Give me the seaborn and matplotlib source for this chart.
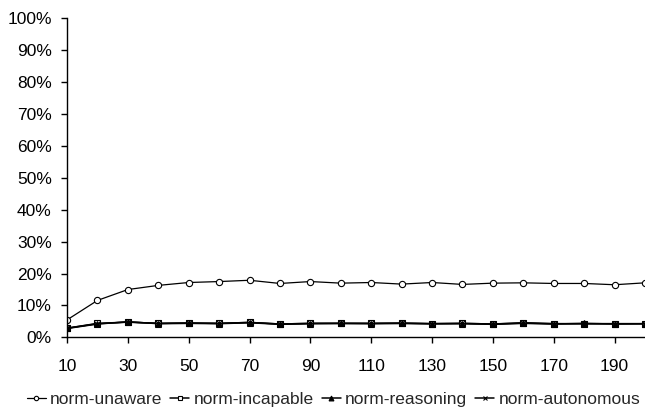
import matplotlib
matplotlib.use("Agg")
import matplotlib.pyplot as plt
import seaborn as sns
import pandas as pd
from matplotlib.ticker import FuncFormatter

steps = list(range(10, 201, 10))
norm_unaware = [5.5, 11.6, 15.0, 16.3, 17.2, 17.5, 17.9, 16.9, 17.5, 17.0,
                17.2, 16.7, 17.2, 16.6, 17.0, 17.1, 16.9, 16.9, 16.5, 17.1]
norm_incapable = [2.9, 4.4, 4.8, 4.4, 4.5, 4.4, 4.7, 4.2, 4.4, 4.4,
                  4.4, 4.5, 4.3, 4.4, 4.2, 4.6, 4.3, 4.3, 4.3, 4.3]
norm_reasoning = [2.8, 4.2, 4.9, 4.3, 4.4, 4.3, 4.6, 4.1, 4.3, 4.4,
                  4.3, 4.4, 4.3, 4.3, 4.1, 4.4, 4.2, 4.4, 4.2, 4.3]
norm_autonomous = [2.9, 4.3, 4.8, 4.4, 4.5, 4.4, 4.7, 4.2, 4.4, 4.4,
                   4.4, 4.4, 4.3, 4.4, 4.2, 4.5, 4.3, 4.3, 4.3, 4.3]
series_names = ["norm-unaware", "norm-incapable", "norm-reasoning", "norm-autonomous"]
xtick_labels = list(range(10, 191, 20))

series_values = [norm_unaware, norm_incapable, norm_reasoning, norm_autonomous]
df = pd.concat([pd.DataFrame({"step": steps, "value": v, "series": n})
                for n, v in zip(series_names, series_values)], ignore_index=True)

sns.set_theme(style="white")
plt.rcParams["font.family"] = ["Liberation Sans", "DejaVu Sans"]

fig = plt.figure(figsize=(6.45, 4.12), dpi=100)
ax = fig.add_axes([0.104, 0.181, 0.896, 0.775])

styles = {
    "norm-unaware": dict(marker="o", mfc="white", ms=4.5, lw=0.9),
    "norm-incapable": dict(marker="s", mfc="white", ms=4.5, lw=1.1),
    "norm-reasoning": dict(marker="^", mfc="black", ms=5, lw=1.1),
    "norm-autonomous": dict(marker="x", mfc="black", ms=5, lw=1.1),
}
for name in series_names:
    st = styles[name]
    sub = df[df["series"] == name]
    sns.lineplot(data=sub, x="step", y="value", ax=ax, color="black",
                 marker=st["marker"], markerfacecolor=st["mfc"],
                 markeredgecolor="black", markersize=st["ms"],
                 markeredgewidth=0.8, linewidth=st["lw"], label=name)

FS = 12.5
ax.set_xlim(10, 200)
ax.set_ylim(0, 100)
ax.set_xticks(xtick_labels)
ax.set_xticklabels([str(t) for t in xtick_labels])
ax.set_yticks(range(0, 101, 10))
ax.yaxis.set_major_formatter(FuncFormatter(lambda v, p: f"{int(v)}%"))
ax.set_xlabel("")
ax.set_ylabel("")
for s in ["top", "right"]:
    ax.spines[s].set_visible(False)
for s in ["left", "bottom"]:
    ax.spines[s].set_color("black")
    ax.spines[s].set_linewidth(1.0)
ax.tick_params(axis="both", which="major", direction="out", length=4,
               width=1.0, color="black", labelsize=FS, labelcolor="black",
               bottom=True, left=True)
ax.tick_params(axis="y", pad=7)
ax.tick_params(axis="x", pad=11.5)

ax.legend_.remove()
handles, labels = ax.get_legend_handles_labels()
fig.legend(handles, labels, loc="center", bbox_to_anchor=(0.517, 0.031), ncol=4,
           frameon=False, fontsize=FS, handlelength=1.1, handletextpad=0.25,
           columnspacing=0.45, markerscale=0.7, borderaxespad=0, borderpad=0)

fig.savefig("out.png", dpi=100, facecolor="white")
